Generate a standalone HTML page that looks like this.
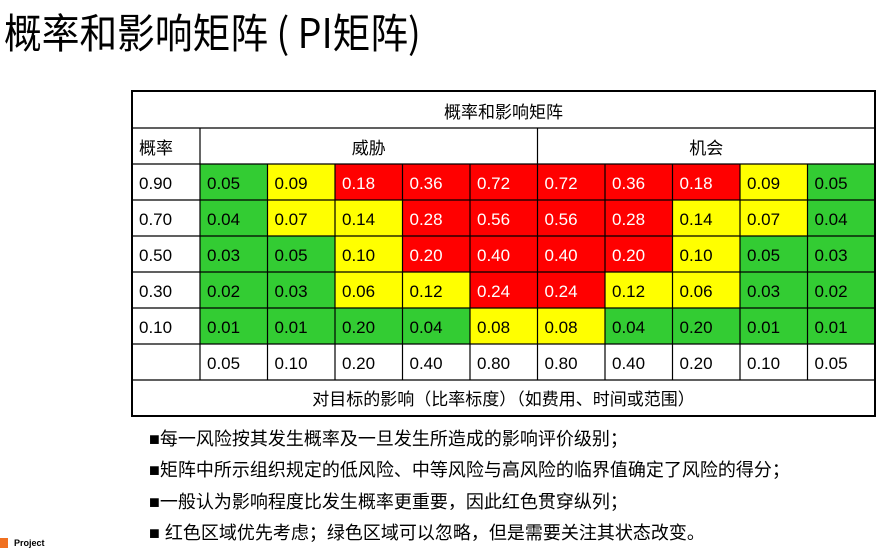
<!DOCTYPE html>
<html><head><meta charset="utf-8"><style>
body{margin:0;width:888px;height:550px;background:#fff;position:relative;overflow:hidden;font-family:"Liberation Sans","Noto Sans CJK SC",sans-serif}
.t{position:absolute;white-space:nowrap}
#title{left:4px;top:4px;font-size:41px;color:#000;font-family:"Noto Sans CJK SC",sans-serif;transform:scaleX(0.92);transform-origin:left;line-height:52px}
.b{left:149px;font-size:18px;font-family:"Liberation Sans","Noto Sans CJK SC",sans-serif;color:#000}
</style></head><body>
<div id="title" class="t">概率和影响矩阵 ( PI矩阵)</div>
<svg id="chart" width="888" height="550" style="position:absolute;left:0;top:0"></svg>
<div class="t b" style="top:425px">■每一风险按其发生概率及一旦发生所造成的影响评价级别；</div>
<div class="t b" style="top:456px">■矩阵中所示组织规定的低风险、中等风险与高风险的临界值确定了风险的得分；</div>
<div class="t b" style="top:488px">■一般认为影响程度比发生概率更重要，因此红色贯穿纵列；</div>
<div class="t b" style="top:519px">■ 红色区域优先考虑；绿色区域可以忽略，但是需要关注其状态改变。</div>
<div class="t" style="left:0;top:538px;width:8px;height:10px;background:#f07020"></div>
<div class="t" style="left:14px;top:538px;font-size:9px;font-weight:bold">Project</div>
<script>
const probs=["0.90","0.70","0.50","0.30","0.10"];
const impacts=["0.05","0.10","0.20","0.40","0.80","0.80","0.40","0.20","0.10","0.05"];
const values=[
["0.05","0.09","0.18","0.36","0.72","0.72","0.36","0.18","0.09","0.05"],
["0.04","0.07","0.14","0.28","0.56","0.56","0.28","0.14","0.07","0.04"],
["0.03","0.05","0.10","0.20","0.40","0.40","0.20","0.10","0.05","0.03"],
["0.02","0.03","0.06","0.12","0.24","0.24","0.12","0.06","0.03","0.02"],
["0.01","0.01","0.20","0.04","0.08","0.08","0.04","0.20","0.01","0.01"]];
const levels=["GYRRRRRRYG","GYYRRRRYYG","GGYRRRRYGG","GGYYRRYYGG","GGGGYYGGGG"];
const svg=document.getElementById('chart');const NS='http://www.w3.org/2000/svg';
const X0=132,X1=875,C0=200,Y0=91,RH=36,CW=(X1-C0)/10;
function el(tag,a,name){const e=document.createElementNS(NS,tag);for(const k in a)e.setAttribute(k,a[k]);


svg.appendChild(e);return e;}
function txt(x,y,s,name,fill,anchor){const t=el('text',{x:x,y:y,'font-size':17,fill:fill||'#000','text-anchor':anchor||'start','font-family':'"Liberation Sans","Noto Sans CJK SC",sans-serif'},name);t.textContent=s;return t;}
const colx=i=>C0+i*CW, rowy=r=>Y0+37+RH*(r+1);
const col={G:'#33cc33',Y:'#ffff00',R:'#ff0000'};
values.forEach((row,r)=>row.forEach((v,c)=>{
 const k=levels[r][c];
 el('rect',{x:colx(c),y:rowy(r),width:CW,height:RH,fill:col[k]},'cell-r'+r+'-c'+c);
 txt(colx(c)+7,rowy(r)+25,v,'cell-value',k==='R'?'#fff':'#000');
}));
probs.forEach((p,r)=>txt(X0+7,rowy(r)+25,p,'probability-label'));
impacts.forEach((p,c)=>txt(colx(c)+7,rowy(5)+25,p,'impact-label'));
[Y0+37,Y0+37+RH].concat(probs.map((_,r)=>rowy(r+1))).concat([rowy(5)+RH]).forEach(y=>el('line',{x1:X0,x2:X1,y1:y,y2:y,stroke:'#000','stroke-width':1.2},'h-grid'));
el('line',{x1:C0,x2:C0,y1:Y0+37,y2:rowy(5)+RH,stroke:'#000','stroke-width':1.2},'v-grid');
for(let c=1;c<10;c++)el('line',{x1:colx(c),x2:colx(c),y1:c===5?Y0+37:rowy(0),y2:rowy(5)+RH,stroke:'#000','stroke-width':1.2},'v-grid');
el('rect',{x:X0,y:Y0,width:X1-X0,height:rowy(5)+RH*2-Y0,fill:'none',stroke:'#000','stroke-width':2},'table-border');
txt((X0+X1)/2,Y0+27,'概率和影响矩阵','table-title','#000','middle');
txt(X0+7,Y0+37+26,'概率','probability-header');
txt((C0+colx(5))/2,Y0+37+26,'威胁','threat-header','#000','middle');
txt((colx(5)+X1)/2,Y0+37+26,'机会','opportunity-header','#000','middle');
txt((X0+X1)/2,rowy(6)+25,'对目标的影响（比率标度）（如费用、时间或范围）','impact-axis-title','#000','middle');
</script>
</body></html>
